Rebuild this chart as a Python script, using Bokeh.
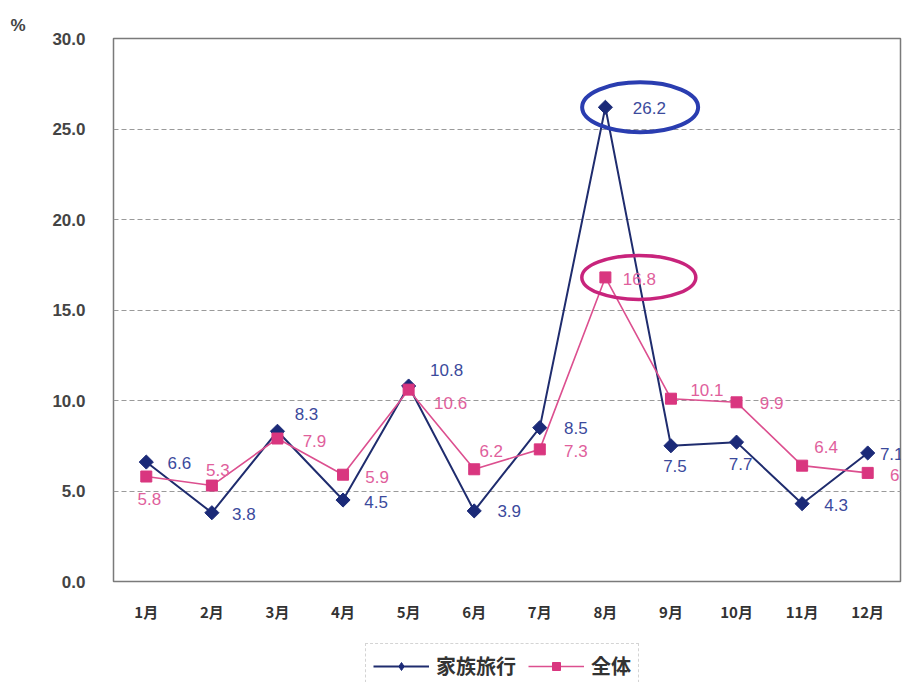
import math
from bokeh.plotting import figure
from bokeh.layouts import column
from bokeh.models import (ColumnDataSource, Range1d, FixedTicker, Legend, LegendItem, Title)
from bokeh.core.properties import value
from bokeh.embed import file_html
from bokeh.resources import INLINE

# ---- data ----
months = ["1月", "2月", "3月", "4月", "5月", "6月", "7月", "8月", "9月", "10月", "11月", "12月"]
family = [6.6, 3.8, 8.3, 4.5, 10.8, 3.9, 8.5, 26.2, 7.5, 7.7, 4.3, 7.1]
overall = [5.8, 5.3, 7.9, 5.9, 10.6, 6.2, 7.3, 16.8, 10.1, 9.9, 6.4, 6.0]
y_ticks = [0, 5, 10, 15, 20, 25, 30]
series_names = ["家族旅行", "全体"]
unit_label = "%"

# label placement (screen px, relative to each point)
fam_dx = [33, 32, 29, 33, 38, 35, 36, 44, 4, 4, 34, 24]
fam_dy = [1, 1, -17, 2, -16, 0, 0, 1, 20, 22, 1, 1]
ovr_dx = [3, 6, 37, 34, 42, 17, 36, 34, 36, 35, 24, 34]
ovr_dy = [22, -16, 2, 2, 13, -18, 2, 2, -9, 1, -19, 2]

BLUE_LINE = "#1f2c6e"
BLUE_MARK = "#1b2a78"
BLUE_TEXT = "#3b4a9c"
PINK_LINE = "#dc4f8f"
PINK_MARK = "#d9367f"
PINK_TEXT = "#e0609c"
LABEL_FONT = "Liberation Sans"
CJK_FONT = "Noto Sans CJK JP"

xs = list(range(1, len(months) + 1))
src_f = ColumnDataSource(dict(x=xs, y=family, t=[f"{v:.1f}" for v in family], dx=fam_dx, dy=fam_dy))
src_o = ColumnDataSource(dict(x=xs, y=overall, t=[f"{v:.1f}" for v in overall], dx=ovr_dx, dy=ovr_dy))

p = figure(width=915, height=632, output_backend="svg", toolbar_location=None,
           x_range=Range1d(0.5, len(months) + 0.5), y_range=Range1d(0, 30),
           min_border_left=113, min_border_right=15, min_border_top=38, min_border_bottom=51)
p.background_fill_color = "white"
p.border_fill_color = "white"
p.outline_line_color = "#7a7a7a"
p.outline_line_width = 1.5

# "%" unit label as a left-aligned title above the frame
p.add_layout(Title(text=unit_label, align="left", offset=-103,
                   text_font=LABEL_FONT, text_font_size="17px", text_font_style="bold",
                   text_color="#444444", standoff=8), "above")

# axes
p.xaxis.ticker = FixedTicker(ticks=xs)
p.xaxis.major_label_overrides = {i: m for i, m in zip(xs, months)}
p.xaxis.major_label_text_font = CJK_FONT
p.xaxis.major_label_text_font_size = "15px"
p.xaxis.major_label_text_font_style = "bold"
p.xaxis.major_label_text_color = "#333333"
p.xaxis.major_label_standoff = 13
p.xaxis.axis_line_color = None
p.xaxis.major_tick_line_color = None
p.xaxis.minor_tick_line_color = None

p.yaxis.ticker = FixedTicker(ticks=y_ticks)
p.yaxis.major_label_overrides = {v: f"{v:.1f}" for v in y_ticks}
p.yaxis.major_label_text_font = LABEL_FONT
p.yaxis.major_label_text_font_size = "17px"
p.yaxis.major_label_text_font_style = "bold"
p.yaxis.major_label_text_color = "#444444"
p.yaxis.major_label_standoff = 22
p.yaxis.axis_line_color = None
p.yaxis.major_tick_line_color = None
p.yaxis.minor_tick_line_color = None

p.xgrid.grid_line_color = None
p.ygrid.grid_line_color = "#9a9a9a"
p.ygrid.grid_line_dash = "5 3"
p.ygrid.grid_line_width = 1

# lines and markers
line_kw_f = dict(line_color=BLUE_LINE, line_width=2)
mark_kw_f = dict(marker="square", angle=math.pi / 4, size=10, fill_color=BLUE_MARK, line_color=BLUE_MARK)
line_kw_o = dict(line_color=PINK_LINE, line_width=1.6)
mark_kw_o = dict(marker="square", size=11, fill_color=PINK_MARK, line_color=PINK_MARK)

p.line("x", "y", source=src_f, **line_kw_f)
p.scatter("x", "y", source=src_f, **mark_kw_f)
p.line("x", "y", source=src_o, **line_kw_o)
p.scatter("x", "y", source=src_o, **mark_kw_o)

# value labels
p.text("x", "y", text="t", source=src_f, x_offset="dx", y_offset="dy",
       text_align="center", text_baseline="middle", text_color=BLUE_TEXT,
       text_font=value(LABEL_FONT), text_font_size="17px")
p.text("x", "y", text="t", source=src_o, x_offset="dx", y_offset="dy",
       text_align="center", text_baseline="middle", text_color=PINK_TEXT,
       text_font=value(LABEL_FONT), text_font_size="17px")

# highlight ellipses around peaks
i_f = family.index(max(family))
i_o = overall.index(max(overall))
p.ellipse(x=[xs[i_f] + 0.53], y=[family[i_f]], width=116, height=50,
          width_units="screen", height_units="screen",
          fill_color=None, line_color="#2a3db0", line_width=4)
p.ellipse(x=[xs[i_o] + 0.51], y=[overall[i_o]], width=114, height=44,
          width_units="screen", height_units="screen",
          fill_color=None, line_color="#c8247c", line_width=3.5)

# ---- legend strip below the chart (same series, drawn off-range so only the legend shows) ----
q = figure(width=915, height=50, output_backend="svg", toolbar_location=None,
           x_axis_location=None, y_axis_location=None,
           x_range=Range1d(-20, -19), y_range=Range1d(-20, -19),
           min_border_left=0, min_border_right=0, min_border_top=0, min_border_bottom=0)
q.outline_line_color = None
q.grid.grid_line_color = None
q.border_fill_color = "white"
qlf = q.line("x", "y", source=src_f, **line_kw_f)
qmf = q.scatter("x", "y", source=src_f, marker="diamond", size=15,
                fill_color=BLUE_MARK, line_color=BLUE_MARK)
qlo = q.line("x", "y", source=src_o, **line_kw_o)
qmo = q.scatter("x", "y", source=src_o, **mark_kw_o)

legend = Legend(items=[LegendItem(label=series_names[0], renderers=[qlf, qmf]),
                       LegendItem(label=series_names[1], renderers=[qlo, qmo])],
                location=(252, -6), orientation="horizontal",
                label_text_font=CJK_FONT, label_text_font_size="20px",
                label_text_font_style="bold",
                label_text_color="#333333", label_standoff=7,
                glyph_width=56, glyph_height=20, label_height=20,
                spacing=12, padding=7, margin=0,
                border_line_color="#aaaaaa", border_line_width=1, border_line_dash="3 2",
                background_fill_color="white")
q.add_layout(legend, "center")

layout = column(p, q, spacing=0)
open("out.html", "w").write(file_html(layout, INLINE))
